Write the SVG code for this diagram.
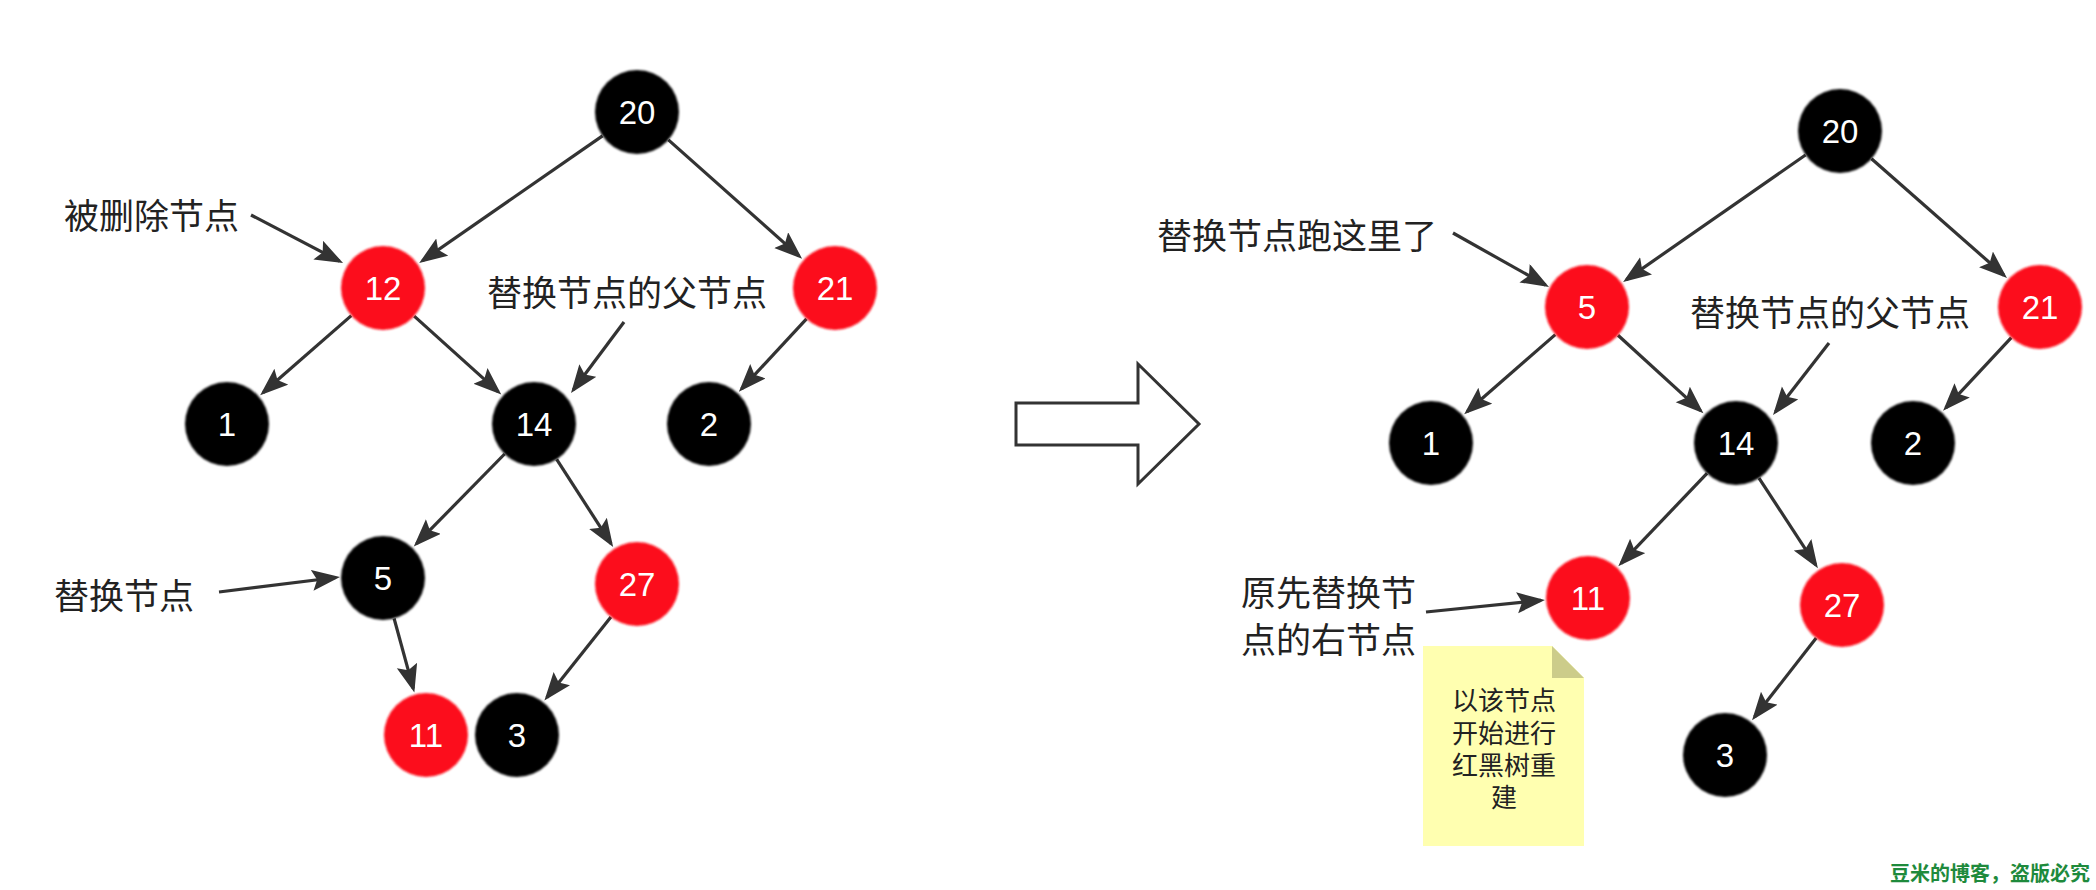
<svg xmlns="http://www.w3.org/2000/svg" width="2096" height="890" viewBox="0 0 2096 890">
<style>
.edge{stroke:#333;stroke-width:3.2;fill:none;marker-end:url(#ah)}
.blk{fill:#000}
.red{fill:#FC0E1C}
.num{font-family:"Liberation Sans",Arial,sans-serif;font-size:33px;fill:#fff;text-anchor:middle;dominant-baseline:central}
.lbl{font-family:"Noto Sans CJK SC","Noto Sans",sans-serif;font-size:35px;fill:#222;dominant-baseline:central}
.note{font-family:"Noto Sans CJK SC","Noto Sans",sans-serif;font-size:26px;fill:#222;text-anchor:middle;dominant-baseline:central}
.wm{font-family:"Noto Sans CJK SC","Noto Sans",sans-serif;font-size:20px;font-weight:bold;fill:#1E8A3C;text-anchor:end;dominant-baseline:central}
</style>
<defs>
<marker id="ah" markerUnits="userSpaceOnUse" markerWidth="30" markerHeight="22" refX="24" refY="10.5" orient="auto">
<path d="M0,0 L28,10.5 L0,21 L5,10.5 Z" fill="#333"/>
</marker>
<filter id="soft" x="-20%" y="-20%" width="140%" height="140%">
<feGaussianBlur stdDeviation="1.2"/>
</filter>
</defs>
<rect width="2096" height="890" fill="#fff"/>

<g id="connectors">
<line class="edge" x1="602.5" y1="135.9" x2="422.5" y2="260.7"/>
<line class="edge" x1="668.4" y1="139.9" x2="799.1" y2="256.1"/>
<line class="edge" x1="351.3" y1="315.6" x2="263.2" y2="392.5"/>
<line class="edge" x1="414.2" y1="316.1" x2="498.3" y2="391.9"/>
<line class="edge" x1="806.5" y1="318.8" x2="741.6" y2="388.8"/>
<line class="edge" x1="504.6" y1="454.0" x2="416.6" y2="543.7"/>
<line class="edge" x1="556.7" y1="459.3" x2="611.0" y2="543.6"/>
<line class="edge" x1="394.1" y1="618.5" x2="413.3" y2="688.7"/>
<line class="edge" x1="610.9" y1="616.9" x2="546.9" y2="697.4"/>
<line class="edge" x1="251" y1="215" x2="339.5" y2="261.2"/>
<line class="edge" x1="624" y1="322" x2="573.4" y2="389.8"/>
<line class="edge" x1="219" y1="592" x2="336" y2="577.5"/>

<line class="edge" x1="1805.5" y1="155.0" x2="1626.4" y2="279.6"/>
<line class="edge" x1="1871.5" y1="158.7" x2="2004.0" y2="275.3"/>
<line class="edge" x1="1555.3" y1="334.6" x2="1467.2" y2="411.5"/>
<line class="edge" x1="1618.0" y1="335.3" x2="1700.5" y2="410.6"/>
<line class="edge" x1="2011.3" y1="337.7" x2="1945.8" y2="407.9"/>
<line class="edge" x1="1707.0" y1="473.4" x2="1621.1" y2="563.3"/>
<line class="edge" x1="1759.0" y1="478.1" x2="1815.7" y2="564.8"/>
<line class="edge" x1="1816.2" y1="638.1" x2="1754.5" y2="717.1"/>
<line class="edge" x1="1453" y1="233" x2="1545.5" y2="285.0"/>
<line class="edge" x1="1829" y1="343" x2="1775.5" y2="411.8"/>
<line class="edge" x1="1426" y1="612" x2="1541" y2="600.4"/>
</g>

<g id="big-arrow">
<polygon points="1016,403 1138,403 1138,364 1199,424 1138,484 1138,445 1016,445" fill="#fff" stroke="#333" stroke-width="3"/>
</g>

<g id="L20"><circle class="blk" cx="637" cy="112" r="42" filter="url(#soft)"/><text class="num" x="637" y="112">20</text></g>
<g id="L12"><circle class="red" cx="383" cy="288" r="42" filter="url(#soft)"/><text class="num" x="383" y="288">12</text></g>
<g id="L21"><circle class="red" cx="835" cy="288" r="42" filter="url(#soft)"/><text class="num" x="835" y="288">21</text></g>
<g id="L1"><circle class="blk" cx="227" cy="424" r="42" filter="url(#soft)"/><text class="num" x="227" y="424">1</text></g>
<g id="L14"><circle class="blk" cx="534" cy="424" r="42" filter="url(#soft)"/><text class="num" x="534" y="424">14</text></g>
<g id="L2"><circle class="blk" cx="709" cy="424" r="42" filter="url(#soft)"/><text class="num" x="709" y="424">2</text></g>
<g id="L5"><circle class="blk" cx="383" cy="578" r="42" filter="url(#soft)"/><text class="num" x="383" y="578">5</text></g>
<g id="L27"><circle class="red" cx="637" cy="584" r="42" filter="url(#soft)"/><text class="num" x="637" y="584">27</text></g>
<g id="L11"><circle class="red" cx="426" cy="735" r="42" filter="url(#soft)"/><text class="num" x="426" y="735">11</text></g>
<g id="L3"><circle class="blk" cx="517" cy="735" r="42" filter="url(#soft)"/><text class="num" x="517" y="735">3</text></g>

<g id="R20"><circle class="blk" cx="1840" cy="131" r="42" filter="url(#soft)"/><text class="num" x="1840" y="131">20</text></g>
<g id="R5"><circle class="red" cx="1587" cy="307" r="42" filter="url(#soft)"/><text class="num" x="1587" y="307">5</text></g>
<g id="R21"><circle class="red" cx="2040" cy="307" r="42" filter="url(#soft)"/><text class="num" x="2040" y="307">21</text></g>
<g id="R1"><circle class="blk" cx="1431" cy="443" r="42" filter="url(#soft)"/><text class="num" x="1431" y="443">1</text></g>
<g id="R14"><circle class="blk" cx="1736" cy="443" r="42" filter="url(#soft)"/><text class="num" x="1736" y="443">14</text></g>
<g id="R2"><circle class="blk" cx="1913" cy="443" r="42" filter="url(#soft)"/><text class="num" x="1913" y="443">2</text></g>
<g id="R11"><circle class="red" cx="1588" cy="598" r="42" filter="url(#soft)"/><text class="num" x="1588" y="598">11</text></g>
<g id="R27"><circle class="red" cx="1842" cy="605" r="42" filter="url(#soft)"/><text class="num" x="1842" y="605">27</text></g>
<g id="R3"><circle class="blk" cx="1725" cy="755" r="42" filter="url(#soft)"/><text class="num" x="1725" y="755">3</text></g>

<g id="labels">
<text class="lbl" x="64" y="213">被删除节点</text>
<text class="lbl" x="487" y="290">替换节点的父节点</text>
<text class="lbl" x="54" y="593">替换节点</text>
<text class="lbl" x="1157" y="233">替换节点跑这里了</text>
<text class="lbl" x="1690" y="310">替换节点的父节点</text>
<text class="lbl" x="1241" y="590">原先替换节</text>
<text class="lbl" x="1241" y="637">点的右节点</text>
</g>

<g id="note">
<path d="M1423,646 H1552 L1584,678 V846 H1423 Z" fill="#FFFFB0"/>
<path d="M1552,646 L1584,678 H1552 Z" fill="#CCCC8A"/>
<text class="note" x="1504" y="698">以该节点</text>
<text class="note" x="1504" y="731">开始进行</text>
<text class="note" x="1504" y="763">红黑树重</text>
<text class="note" x="1504" y="795">建</text>
</g>

<text class="wm" x="2090" y="872">豆米的博客，盗版必究</text>
</svg>
